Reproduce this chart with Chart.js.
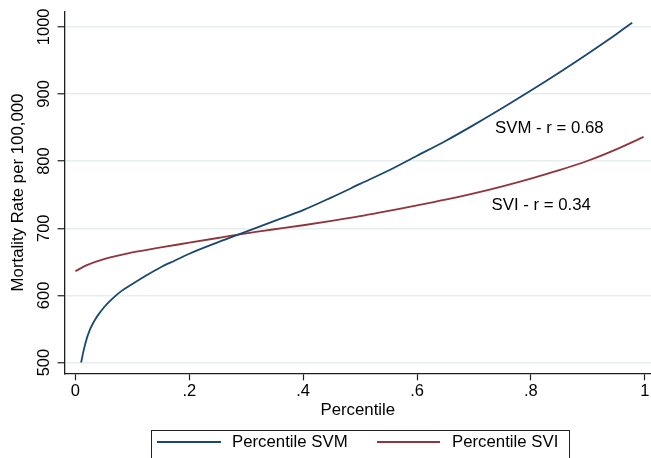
<!DOCTYPE html>
<html>
<head>
<meta charset="utf-8">
<script src="https://cdn.jsdelivr.net/npm/chart.js@4/dist/chart.umd.min.js"></script>
<style>
  html, body { margin: 0; padding: 0; background: #ffffff; }
  #wrap { width: 651px; height: 458px; position: relative; }
  canvas { display: block; }
</style>
</head>
<body>
<div id="wrap"><canvas id="c" width="651" height="458"></canvas></div>
<script>
// ---- Data ----
const svmX = [0.010, 0.015, 0.020, 0.025, 0.030, 0.035, 0.040, 0.050, 0.060, 0.070, 0.080, 0.100, 0.125, 0.150, 0.175, 0.200, 0.250, 0.300, 0.350, 0.400, 0.450, 0.500, 0.550, 0.600, 0.650, 0.700, 0.750, 0.800, 0.850, 0.900, 0.950, 0.978];
const svmY = [500, 520, 536, 548, 557, 564.5, 571, 582, 591, 599, 606, 617, 630, 642, 652, 662, 679, 695, 711, 727, 746, 766, 786, 808, 830, 854, 879, 905, 932, 960, 989, 1006];

const sviX = [0.000, 0.020, 0.050, 0.100, 0.150, 0.200, 0.250, 0.300, 0.350, 0.400, 0.450, 0.500, 0.550, 0.600, 0.650, 0.700, 0.750, 0.800, 0.850, 0.900, 0.950, 0.998];
const sviY = [636, 645, 654, 664, 671.5, 678.5, 685.5, 692.5, 698.5, 704.5, 711, 718, 726, 734, 742.5, 752, 762.5, 774, 786.5, 800.5, 817.5, 836];

const seriesLabels = ['Percentile SVM', 'Percentile SVI'];
const xTickValues = [0, 0.2, 0.4, 0.6, 0.8, 1];
const xTickLabels = ['0', '.2', '.4', '.6', '.8', '1'];
const yTickValues = [500, 600, 700, 800, 900, 1000];
const yTickLabels = ['500', '600', '700', '800', '900', '1000'];
const xTitle = 'Percentile';
const yTitle = 'Mortality Rate per 100,000';
const annotationTexts = ['SVM - r = 0.68', 'SVI - r = 0.34'];
const annotationAt = [[0.737, 849], [0.731, 734]];

// ---- Styling ----
const FONT = "'Liberation Sans', Arial, sans-serif";
const BLUE = '#1a476f';
const RED = '#90353b';
const AXIS = '#1e1e1e';
const GRID = '#e6eeef';

const toPts = (xs, ys) => xs.map((x, i) => ({ x: x, y: ys[i] }));

const extras = {
  id: 'extras',
  afterDraw(chart) {
    const ctx = chart.ctx;
    const xs = chart.scales.x, ys = chart.scales.y;
    ctx.save();
    ctx.fillStyle = '#000';
    ctx.font = '16.5px ' + FONT;
    // rotated y tick labels
    ctx.textAlign = 'center';
    ctx.textBaseline = 'middle';
    yTickValues.forEach((v, i) => {
      ctx.save();
      ctx.translate(44, ys.getPixelForValue(v));
      ctx.rotate(-Math.PI / 2);
      ctx.fillText(yTickLabels[i], 0, 0);
      ctx.restore();
    });
    // annotations
    ctx.font = '16.8px ' + FONT;
    ctx.textAlign = 'left';
    annotationTexts.forEach((t, i) => {
      ctx.fillText(t, xs.getPixelForValue(annotationAt[i][0]), ys.getPixelForValue(annotationAt[i][1]));
    });
    // legend
    const ds = chart.data.datasets;
    ctx.strokeStyle = '#222';
    ctx.lineWidth = 1;
    ctx.strokeRect(151.5, 430.5, 418, 40);
    const items = [[157, 221, 232], [377, 440, 452]];
    const ly = 442;
    ds.forEach((d, i) => {
      ctx.strokeStyle = d.borderColor;
      ctx.lineWidth = 1.8;
      ctx.beginPath();
      ctx.moveTo(items[i][0], ly);
      ctx.lineTo(items[i][1], ly);
      ctx.stroke();
      ctx.fillStyle = '#000';
      ctx.textBaseline = 'middle';
      ctx.fillText(d.label, items[i][2], ly);
    });
    ctx.restore();
  }
};

new Chart(document.getElementById('c'), {
  type: 'line',
  data: {
    datasets: [
      { label: seriesLabels[0], data: toPts(svmX, svmY), borderColor: BLUE, borderWidth: 1.8, pointRadius: 0, cubicInterpolationMode: 'monotone', fill: false },
      { label: seriesLabels[1], data: toPts(sviX, sviY), borderColor: RED, borderWidth: 1.8, pointRadius: 0, cubicInterpolationMode: 'monotone', fill: false }
    ]
  },
  options: {
    responsive: false,
    animation: false,
    devicePixelRatio: 1,
    layout: { padding: { top: 11.7, left: 0, right: 0, bottom: 0 } },
    plugins: { legend: { display: false }, tooltip: { enabled: false } },
    scales: {
      x: {
        type: 'linear',
        min: -0.019,
        max: 1.011,
        afterBuildTicks: s => { s.ticks = xTickValues.map(v => ({ value: v })); },
        afterFit: s => { s.height = 84.7; },
        ticks: {
          color: '#000',
          font: { family: FONT, size: 16.5 },
          padding: 1,
          maxRotation: 0,
          autoSkip: false,
          callback: v => { const i = xTickValues.indexOf(v); return i >= 0 ? xTickLabels[i] : ''; }
        },
        grid: { drawOnChartArea: false, drawTicks: true, tickLength: 7, tickColor: AXIS, tickWidth: 1.2 },
        border: { display: true, color: AXIS, width: 1.3 },
        title: { display: true, text: xTitle, color: '#000', font: { family: FONT, size: 16.8 }, padding: { top: 0, bottom: 37.6 } }
      },
      y: {
        type: 'linear',
        min: 484,
        max: 1022.5,
        afterBuildTicks: s => { s.ticks = yTickValues.map(v => ({ value: v })); },
        afterFit: s => { s.width = 64.6; },
        ticks: { display: false },
        grid: { drawOnChartArea: true, color: GRID, lineWidth: 1.5, drawTicks: true, tickLength: 7, tickColor: AXIS, tickWidth: 1.2 },
        border: { display: true, color: AXIS, width: 1.3 },
        title: { display: true, text: yTitle, color: '#000', font: { family: FONT, size: 16.8 }, padding: { top: 8.3, bottom: 0 } }
      }
    }
  },
  plugins: [extras]
});
</script>
</body>
</html>
